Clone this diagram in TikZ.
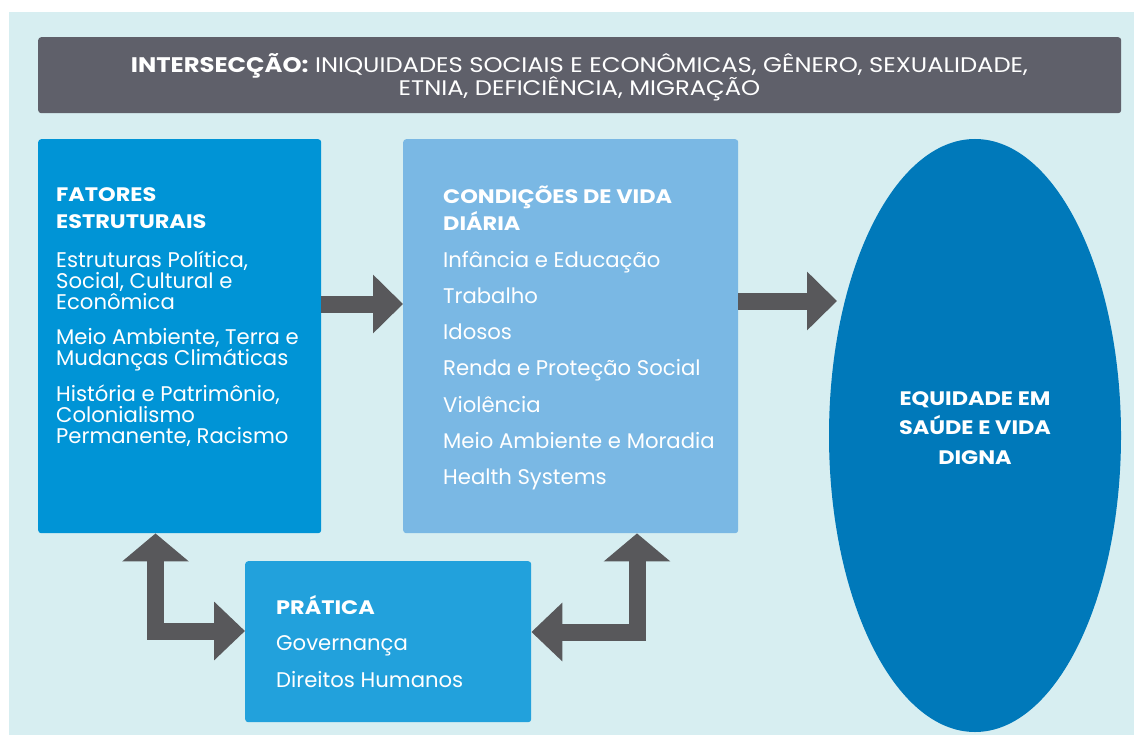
\documentclass[tikz,border=0pt]{standalone}
\usepackage{fontspec}
\setmainfont{Poppins}
\newfontfamily\widefont{Poppins}[FakeStretch=1.15]
\usetikzlibrary{arrows.meta,shapes.geometric}
\definecolor{paper}{HTML}{D7EEF1}
\definecolor{slate}{HTML}{5F606A}
\definecolor{deepblue}{HTML}{0094D6}
\definecolor{skyblue}{HTML}{7AB8E4}
\definecolor{midblue}{HTML}{22A1DC}
\definecolor{oceanblue}{HTML}{0079BA}
\definecolor{arrowgray}{HTML}{58585B}
\lineskiplimit=-20pt

\begin{document}
\begin{tikzpicture}[x=1pt,y=-1pt,
  panel/.style={rounded corners=3pt,anchor=north west,inner sep=0pt},
  head/.style={font=\widefont\bfseries\fontsize{19.5}{27}\selectfont,text=white,
    align=left,anchor=base west,inner sep=0pt},
  item/.style={font=\fontsize{21.2}{20.6}\selectfont,
    text=white,align=left,anchor=base west,inner sep=0pt},
  blockarrow/.style={draw=arrowgray,line width=17pt,line join=miter}]
  \useasboundingbox (0,0) rectangle (1134,735);
  \fill[white] (0,0) rectangle (1134,735);
  \fill[paper] (9,12) rectangle (1134,735);

  % Intersection banner
  \node[panel,fill=slate,minimum width=1083pt,minimum height=76pt]
    (intersec) at (38,37) {};
  \node[text=white,align=center,font=\widefont\fontsize{21.1}{23}\selectfont]
    (intersec-text) at (579.5,77.5)
    {\textbf{INTERSECÇÃO:} INIQUIDADES SOCIAIS E ECONÔMICAS, GÊNERO, SEXUALIDADE,\\
     ETNIA, DEFICIÊNCIA, MIGRAÇÃO};

  % Structural factors (base = last line)
  \node[panel,fill=deepblue,minimum width=283pt,minimum height=394pt]
    (fatores) at (38,139) {};
  \node[head] (fat-head) at (56,229) {FATORES\\ESTRUTURAIS};
  \node[item] (fat-a) at (56,309) {Estruturas Política,\\Social, Cultural e\\Econômica};
  \node[item] (fat-b) at (56,365) {Meio Ambiente, Terra e\\Mudanças Climáticas};
  \node[item] (fat-c) at (56,443)
    {História e Patrimônio,\\Colonialismo\\Permanente, Racismo};

  % Daily living conditions
  \node[panel,fill=skyblue,minimum width=335pt,minimum height=394pt]
    (condicoes) at (403,139) {};
  \node[head] (cond-head) at (443,231) {CONDIÇÕES DE VIDA\\DIÁRIA};
  \foreach \txt [count=\i] in {Infância e Educação,Trabalho,Idosos,
      Renda e Proteção Social,Violência,Meio Ambiente e Moradia,Health Systems}
    \node[item] (cond-\i) at (443,{267+36.3*(\i-1)}) {\txt};

  % Practice
  \node[panel,fill=midblue,minimum width=286pt,minimum height=161pt]
    (pratica) at (245,561) {};
  \node[head] (prat-head) at (276,614) {PRÁTICA};
  \node[item] (prat-1) at (276,650) {Governança};
  \node[item] (prat-2) at (276,687) {Direitos Humanos};

  % Outcome
  \node[ellipse,fill=oceanblue,minimum width=292pt,minimum height=593pt,
    inner sep=0pt] (equidade) at (975,435.5) {};
  \node[text=white,align=center,
    font=\widefont\bfseries\fontsize{19.5}{29.5}\selectfont]
    (equidade-text) at (975,428) {EQUIDADE EM\\SAÚDE E VIDA\\DIGNA};
  \coordinate (eq-in) at (837,301);

  % Block arrows
  \draw[blockarrow,-{Triangle[length=30pt,width=57pt]}]
    (fatores.east |- 0,304) -- (condicoes.west |- 0,304);
  \draw[blockarrow,-{Triangle[length=30pt,width=57pt]}]
    (condicoes.east |- eq-in) -- (eq-in);
  \draw[blockarrow,{Triangle[length=28pt,width=65pt]}-{Triangle[length=31pt,width=57pt]}]
    (fatores.south -| 155.5,0) -- (155.5,631) -- (pratica.west |- 0,631);
  \draw[blockarrow,{Triangle[length=28pt,width=65pt]}-{Triangle[length=31pt,width=57pt]}]
    (condicoes.south -| 637,0) -- (637,632) -- (pratica.east |- 0,632);
\end{tikzpicture}
\end{document}
